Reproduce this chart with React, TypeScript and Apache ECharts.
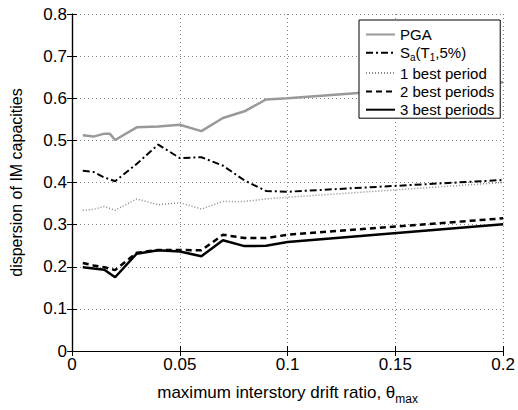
import React, { useEffect, useRef } from "react";
import * as echarts from "echarts";

const pgaX = [0.005, 0.01, 0.015, 0.0175, 0.02, 0.03, 0.04, 0.05, 0.06, 0.07, 0.08, 0.09, 0.1, 0.2];
const pgaY = [0.512, 0.509, 0.516, 0.516, 0.501, 0.531, 0.533, 0.537, 0.522, 0.553, 0.569, 0.597, 0.600, 0.638];

const driftX = [0.005, 0.01, 0.015, 0.02, 0.03, 0.04, 0.05, 0.06, 0.07, 0.08, 0.09, 0.1, 0.2];
const saY = [0.428, 0.425, 0.412, 0.403, 0.444, 0.490, 0.458, 0.460, 0.440, 0.405, 0.380, 0.378, 0.406];
const best1Y = [0.334, 0.336, 0.343, 0.334, 0.361, 0.347, 0.352, 0.337, 0.355, 0.355, 0.361, 0.365, 0.400];
const best2Y = [0.209, 0.203, 0.199, 0.192, 0.233, 0.240, 0.240, 0.239, 0.276, 0.268, 0.268, 0.276, 0.315];
const best3Y = [0.199, 0.196, 0.193, 0.175, 0.231, 0.239, 0.236, 0.225, 0.263, 0.249, 0.250, 0.259, 0.301];

const seriesNames = ["PGA", "Sa", "1 best period", "2 best periods", "3 best periods"];
const xTicks = [0, 0.05, 0.1, 0.15, 0.2];

const FONT = "Liberation Sans";

function pairs(xs: number[], ys: number[]) {
  return xs.map((x, i) => [x, ys[i]]);
}

export default function App() {
  const ref = useRef<HTMLDivElement>(null);
  useEffect(() => {
    if (!ref.current) return;
    const chart = echarts.init(ref.current, null, { renderer: "svg" });
    const axisCommon = {
      axisLine: { show: true, lineStyle: { color: "#000", width: 1.2 } },
      axisTick: { show: true, inside: true, length: 5, lineStyle: { color: "#000" } },
    };
    chart.setOption({
      animation: false,
      backgroundColor: "#fff",
      textStyle: { fontFamily: FONT },
      grid: { left: 71, right: 9, top: 14, bottom: 51, containLabel: false },
      legend: {
        data: seriesNames,
        orient: "vertical",
        left: 359,
        top: 20,
        itemWidth: 29,
        itemHeight: 14,
        itemGap: 3.3,
        padding: [7, 6, 1, 6],
        borderColor: "#000",
        borderWidth: 1,
        backgroundColor: "#fff",
        z: 10,
        itemStyle: { opacity: 0 },
        textStyle: {
          fontFamily: FONT,
          fontSize: 15,
          lineHeight: 15,
          color: "#000",
          rich: {
            n: { fontFamily: FONT, fontSize: 15, color: "#000", lineHeight: 15, verticalAlign: "bottom" },
            s: { fontFamily: FONT, fontSize: 10, color: "#000", lineHeight: 10, verticalAlign: "bottom", padding: [0, 0, -2, 0] },
          },
        },
        formatter: (name: string) => (name === "Sa" ? "{n|S}{s|a}{n|(T}{s|1}{n|,5%)}" : name),
      },
      xAxis: [
        {
          type: "value",
          min: 0,
          max: 0.2,
          interval: 0.05,
          position: "bottom",
          ...axisCommon,
          axisLabel: {
            fontFamily: FONT,
            fontSize: 17,
            color: "#000",
            margin: 5,
            formatter: (v: number) => {
              const t = xTicks.find((k) => Math.abs(k - v) < 1e-9);
              return t === undefined ? "" : String(t);
            },
          },
          splitLine: { show: true, lineStyle: { color: "#888", type: [1, 3], width: 1 } },
          name: "maximum interstory drift ratio, θ{s|max}",
          nameLocation: "middle",
          nameGap: 33,
          nameTextStyle: {
            fontFamily: FONT,
            fontSize: 17,
            color: "#000",
            rich: {
              s: { fontFamily: FONT, fontSize: 12, color: "#000", verticalAlign: "bottom", padding: [0, 0, -4, 0] },
            },
          },
        },
        {
          type: "value",
          min: 0,
          max: 0.2,
          interval: 0.05,
          position: "top",
          ...axisCommon,
          axisLabel: { show: false },
          splitLine: { show: false },
        },
      ],
      yAxis: [
        {
          type: "value",
          min: 0,
          max: 0.8,
          interval: 0.1,
          position: "left",
          ...axisCommon,
          axisLabel: { fontFamily: FONT, fontSize: 17, color: "#000", margin: 5 },
          splitLine: { show: true, lineStyle: { color: "#888", type: [1, 3], width: 1 } },
          name: "dispersion of IM capacities",
          nameLocation: "middle",
          nameGap: 48,
          nameTextStyle: { fontFamily: FONT, fontSize: 16, color: "#000" },
        },
        {
          type: "value",
          min: 0,
          max: 0.8,
          interval: 0.1,
          position: "right",
          ...axisCommon,
          axisLabel: { show: false },
          splitLine: { show: false },
        },
      ],
      series: [
        {
          name: "PGA",
          type: "line",
          data: pairs(pgaX, pgaY),
          symbol: "none",
          color: "#999",
          lineStyle: { color: "#999", width: 2.5, type: "solid" },
        },
        {
          name: "Sa",
          type: "line",
          data: pairs(driftX, saY),
          symbol: "none",
          color: "#000",
          lineStyle: { color: "#000", width: 2, type: [7, 3, 2, 3] },
        },
        {
          name: "1 best period",
          type: "line",
          data: pairs(driftX, best1Y),
          symbol: "none",
          color: "#888",
          lineStyle: { color: "#888", width: 1.5, type: [1, 2] },
        },
        {
          name: "2 best periods",
          type: "line",
          data: pairs(driftX, best2Y),
          symbol: "none",
          color: "#000",
          lineStyle: { color: "#000", width: 2.5, type: [6, 4] },
        },
        {
          name: "3 best periods",
          type: "line",
          data: pairs(driftX, best3Y),
          symbol: "none",
          color: "#000",
          lineStyle: { color: "#000", width: 2.5, type: "solid" },
        },
      ],
    });
    return () => chart.dispose();
  }, []);
  return <div ref={ref} style={{ position: "fixed", left: 0, top: 0, width: 518, height: 410 }} />;
}
